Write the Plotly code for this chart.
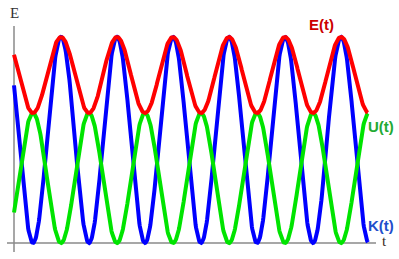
import numpy as np
import plotly.graph_objects as go

# Parameters (time in periods of K, energy relative to K max)
K_MAX = 1.0          # peak kinetic energy
U_MAX = 0.631        # peak potential energy
T_START = 0.0
T_END = 6.32         # end of curves (in K-periods)
T_PEAK = 0.839       # time of first K maximum
N_SAMPLES = 800

series_names = ["K(t)", "U(t)", "E(t)"]
series_colors = ["#0000ff", "#00e400", "#ff0000"]

t = np.linspace(T_START, T_END, N_SAMPLES)
phase = np.pi * (t - T_PEAK)
K = K_MAX * np.cos(phase) ** 2
U = U_MAX * np.sin(phase) ** 2
E = K + U

# pixel mapping helpers for layout (axis ranges)
W, H = 399, 259
X0_PX, PX_PER_T = 14.0, 56.0
Y0_PX, PX_PER_E = 243.0, 206.0

def tx(px):
    return (px - X0_PX) / PX_PER_T

def ey(py):
    return (Y0_PX - py) / PX_PER_E

fig = go.Figure()
for name, col, vals in zip(series_names, series_colors, [K, U, E]):
    fig.add_trace(go.Scatter(x=t, y=vals, mode="lines", name=name,
                             line=dict(color=col, width=4), hoverinfo="skip"))

# axes lines
fig.add_shape(type="line", x0=tx(7), x1=tx(376), y0=0, y1=0,
              line=dict(color="#8a8a8a", width=1.5), layer="below")
fig.add_shape(type="line", x0=0, x1=0, y0=ey(26), y1=ey(252),
              line=dict(color="#8a8a8a", width=1.5), layer="below")

ann = [
    dict(text="<b>E(t)</b>", x=tx(321), y=ey(24), color="#cc0000", fam="Liberation Sans, Arial", size=15),
    dict(text="<b>U(t)</b>", x=tx(381), y=ey(126), color="#22aa33", fam="Liberation Sans, Arial", size=15),
    dict(text="<b>K(t)</b>", x=tx(381), y=ey(225), color="#1f4fcc", fam="Liberation Sans, Arial", size=15),
    dict(text="t", x=tx(384), y=ey(241), color="#3a2a1a", fam="Liberation Serif, DejaVu Serif", size=15),
    dict(text="E", x=tx(14), y=ey(13), color="#333333", fam="Liberation Serif, DejaVu Serif", size=15),
]
for a in ann:
    fig.add_annotation(text=a["text"], x=a["x"], y=a["y"], xref="x", yref="y",
                       showarrow=False, font=dict(color=a["color"], family=a["fam"], size=a["size"]),
                       xanchor="center", yanchor="middle")

fig.update_layout(
    width=W, height=H, margin=dict(l=0, r=0, t=0, b=0),
    paper_bgcolor="white", plot_bgcolor="white", showlegend=False,
    xaxis=dict(range=[tx(0), tx(W)], visible=False, fixedrange=True),
    yaxis=dict(range=[ey(H), ey(0)], visible=False, fixedrange=True),
)
fig.write_html("out.html", config={"displayModeBar": False})
